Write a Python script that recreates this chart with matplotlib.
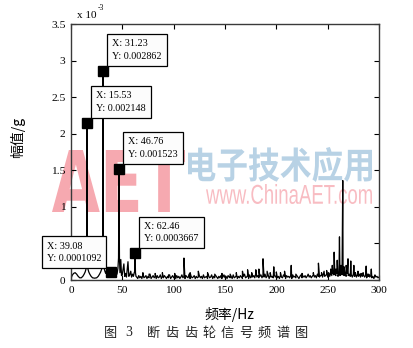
import numpy as np
import matplotlib
matplotlib.use('Agg')
import matplotlib.pyplot as plt
from matplotlib.textpath import TextPath
from matplotlib.patches import PathPatch
from matplotlib.font_manager import FontProperties
from matplotlib.transforms import Affine2D
from matplotlib.ticker import FuncFormatter

# ---------------- data (amplitudes in units of 1e-3 g) ----------------
low_f = [0, 1, 2.5, 4, 5.5, 7, 8.5, 10, 11.5, 12.8, 13.8, 14.6, 15.2, 15.53, 15.9, 16.5,
         17.3, 18.3, 19.6, 21, 23, 25, 26.5, 27.8, 28.9, 29.9, 30.8, 31.23, 31.6, 32.3,
         33, 33.8, 34.5, 35.3, 36.2, 37, 37.8, 38.5, 39.08, 39.8, 40.6, 41.4, 42.3, 43.1,
         44, 44.8, 45.7, 46.3, 46.76, 47.2, 47.7, 48.5, 49.2, 50, 51.5, 52.3, 53.2, 54,
         55.5, 56.3, 57.2, 58.2, 59, 60, 60.8, 61.6, 62.1, 62.46, 62.8, 63.3]
low_a = [0.02, 0.06, 0.09, 0.10, 0.08, 0.05, 0.03, 0.03, 0.05, 0.08, 0.11, 0.15, 0.25, 2.148, 0.25, 0.15,
         0.11, 0.08, 0.05, 0.03, 0.025, 0.03, 0.05, 0.08, 0.11, 0.15, 0.25, 2.862, 0.25, 0.16,
         0.12, 0.09, 0.13, 0.07, 0.11, 0.06, 0.10, 0.07, 0.1092, 0.06, 0.13, 0.07, 0.11, 0.06,
         0.12, 0.08, 0.16, 0.30, 1.523, 0.30, 0.10, 0.28, 0.06, 0.08, 0.22, 0.05, 0.09, 0.04,
         0.25, 0.05, 0.07, 0.12, 0.04, 0.08, 0.05, 0.10, 0.12, 0.3667, 0.10, 0.05]

# noise floor, one value per Hz from 64 Hz to 300 Hz (units of 1e-5 g)
floor_start, floor_stop = 64, 300
floor_e5 = [4, 2, 6, 3, 5, 2, 7, 3, 4, 6, 2, 5, 3, 8, 2, 4, 6, 3, 5, 2,
            6, 3, 4, 7, 2, 5, 3, 6, 4, 2, 5, 3, 7, 2, 4, 6, 3, 5, 2, 6,
            3, 5, 2, 4, 7, 3, 5, 2, 6, 4, 3, 8, 2, 5, 3, 4, 6, 2, 5, 3,
            4, 6, 3, 5, 2, 7, 3, 4, 5, 2, 6, 3, 4, 7, 2, 5, 3, 6, 4, 2,
            5, 3, 6, 2, 4, 7, 3, 5, 2, 6, 4, 3, 5, 2, 7, 3, 4, 6, 2, 5,
            3, 6, 4, 2, 5, 8, 3, 4, 6, 2, 7, 3, 5, 4, 6, 3, 9, 4, 6, 3,
            5, 7, 3, 6, 4, 8, 3, 5, 7, 2, 6, 4, 5, 3, 7, 4, 6, 3, 5, 2,
            6, 4, 3, 7, 5, 2, 6, 4, 5, 3, 6, 2, 7, 4, 5, 3, 6, 4, 2, 5,
            7, 3, 5, 4, 6, 3, 5, 8, 4, 6, 3, 5, 7, 4, 6, 3, 8, 5, 4, 6,
            7, 4, 9, 5, 6, 8, 4, 7, 5, 9, 6, 10, 7, 8, 6, 9, 5, 8, 6, 9,
            7, 10, 6, 8, 5, 9, 6, 8, 5, 7, 4, 8, 5, 6, 4, 7, 5, 8, 4, 6,
            5, 7, 4, 6, 3, 8, 5, 4, 6, 3, 5, 2, 6, 4, 5, 3, 4]

peak_f = [70, 76, 82, 89, 95, 101, 110, 116, 124, 133, 140, 147, 155, 161, 167, 172,
          176, 180, 183, 187, 191, 194, 197.5, 200, 204, 208, 214.5, 219, 225, 231,
          236, 241, 244, 246.5, 249, 251, 253, 254.5, 256.3, 258, 259.3, 261.5, 263,
          264.7, 266, 268, 269.8, 272.5, 275.5, 277, 279.5, 282.5, 284.5, 287.5, 290,
          292.5, 296]
peak_a = [0.10, 0.08, 0.09, 0.10, 0.07, 0.09, 0.30, 0.10, 0.12, 0.10, 0.08, 0.09, 0.08,
          0.10, 0.12, 0.14, 0.10, 0.14, 0.15, 0.29, 0.12, 0.10, 0.18, 0.11, 0.10, 0.12,
          0.20, 0.08, 0.09, 0.08, 0.10, 0.23, 0.10, 0.12, 0.13, 0.10, 0.15, 0.20, 0.38,
          0.15, 0.27, 0.59, 0.20, 1.36, 0.18, 0.20, 0.29, 0.26, 0.20, 0.10, 0.12, 0.09,
          0.10, 0.19, 0.08, 0.15, 0.07]

# data tips (value in g)
tip_x = [31.23, 15.53, 46.76, 62.46, 39.08]
tip_y = [0.002862, 0.002148, 0.001523, 0.0003667, 0.0001092]
tip_side = ['right', 'right', 'right', 'right', 'left']

x_ticks = [0, 50, 100, 150, 200, 250, 300]
y_ticks = [0, 0.5, 1, 1.5, 2, 2.5, 3, 3.5]
hidden_y_labels = [0.5]   # covered by the 39.08 data tip in the reference

# ---------------- figure ----------------
W, H = 413, 348
fig = plt.figure(figsize=(W / 100, H / 100), dpi=100)
fig.patch.set_facecolor('white')

def fx(px):
    return px / W

def fy(py):
    return 1 - py / H

ax = fig.add_axes([fx(71), fy(280), (379 - 71) / W, (280 - 24) / H])
ax.patch.set_visible(False)

floor_f = np.arange(floor_start, floor_stop + 1)
f_all = np.concatenate([low_f, floor_f, peak_f])
a_all = np.concatenate([low_a, np.array(floor_e5) / 100.0, peak_a])
order = np.argsort(f_all, kind='stable')
ax.plot(f_all[order], a_all[order], color='black', lw=0.9, zorder=2)

tx = np.array(tip_x)
ty = np.array(tip_y) * 1e3
ax.plot(tx, ty, 's', color='black', ms=7.2, zorder=4, clip_on=False)

serif = 'Liberation Serif'
for x, y, yg, side in zip(tx, ty, tip_y, tip_side):
    txt = f'X: {x:.2f}\nY: {yg:.4g}'
    if side == 'right':
        off, ha = (9, 10), 'left'
    else:
        off, ha = (-10, 9), 'right'
    ax.annotate(txt, xy=(x, y), xytext=off, textcoords='offset pixels',
                ha=ha, va='bottom', multialignment='left',
                fontsize=7.3, family=serif, linespacing=1.5,
                annotation_clip=False, zorder=5,
                bbox=dict(boxstyle='square,pad=0.5', fc='#fcfcfc', ec='black', lw=0.9))

ax.set_xlim(0, 300)
ax.set_ylim(0, 3.5)
ax.set_xticks(x_ticks)
ax.set_yticks(y_ticks)
ax.yaxis.set_major_formatter(FuncFormatter(
    lambda v, p: '' if any(abs(v - h) < 1e-9 for h in hidden_y_labels) else f'{v:g}'))
ax.tick_params(direction='in', length=3.5, width=0.8, top=True, right=True,
               labelsize=8.2, pad=4, colors='black')
for lab in ax.get_xticklabels() + ax.get_yticklabels():
    lab.set_family(serif)
for s in ax.spines.values():
    s.set_color('#3a3a3a')
    s.set_linewidth(1.0)

# exponent label
fig.text(fx(77), fy(15), 'x 10', fontsize=8, family=serif, va='center', ha='left')
fig.text(fx(97.5), fy(8), '-3', fontsize=5.5, family=serif, va='center', ha='left')

cjk = ['Noto Sans CJK SC', 'DejaVu Sans']
ax.set_xlabel('频率/Hz', family=cjk, fontsize=10)
ax.xaxis.set_label_coords(fx(229), fy(307), transform=fig.transFigure)
ax.set_ylabel('幅值/g', family=cjk, fontsize=10)
ax.yaxis.set_label_coords(fx(25), fy(137), transform=fig.transFigure)

# caption
fig.text(fx(111), fy(333), '图', family=cjk, fontsize=9.5, ha='center', va='center', color='#222222')
fig.text(fx(129), fy(333), '3', family=serif, fontsize=10, ha='center', va='center', color='#222222')
cap = '断齿齿轮信号频谱图'
for i, ch in enumerate(cap):
    fig.text(fx(153.5 + i * 18.45), fy(333), ch, family=cjk, fontsize=9.5,
             ha='center', va='center', color='#222222')

# watermark
def wm(text, family, weight, box, color):
    prop = FontProperties(family=family, weight=weight)
    tp = TextPath((0, 0), text, size=1, prop=prop)
    ext = tp.get_extents()
    x0, y0, x1, y1 = box
    sx = (fx(x1) - fx(x0)) / ext.width
    sy = (fy(y0) - fy(y1)) / ext.height
    tr = Affine2D().translate(-ext.x0, -ext.y0).scale(sx, sy).translate(fx(x0), fy(y1)) + fig.transFigure
    patch = PathPatch(tp, transform=tr, fc=color, ec='none', zorder=-1)
    fig.add_artist(patch)

wm('AET', 'DejaVu Sans', 'bold', (52, 150, 185, 212), '#f6a9b0')
wm('电子技术应用', 'Noto Sans CJK SC', 'bold', (188, 147, 372, 182), '#b8d2e5')
wm('www.ChinaAET.com', 'Liberation Sans', 'normal', (206, 184, 372, 204), '#f8bcc2')

fig.savefig('out.png', dpi=100)
